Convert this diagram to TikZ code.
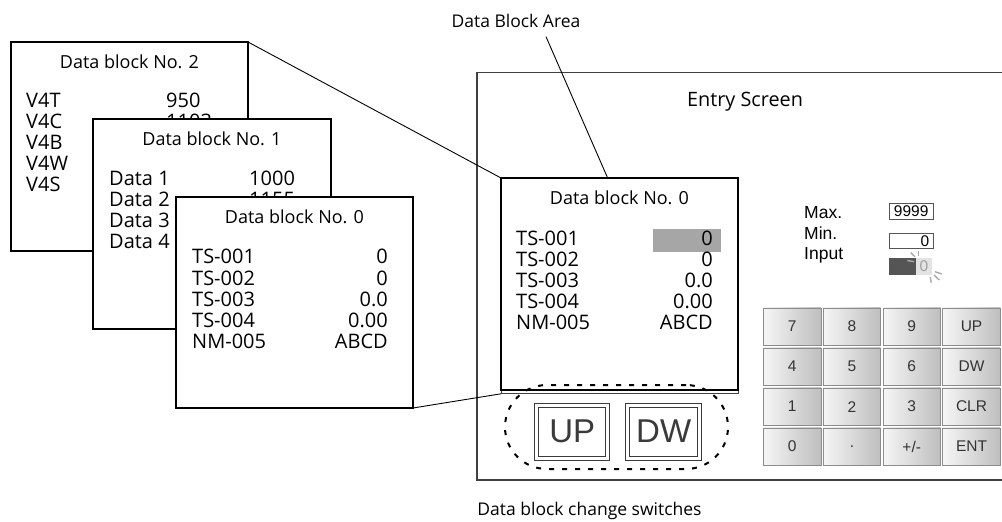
\documentclass[tikz,border=0pt]{standalone}
\usepackage{fontspec}
\usetikzlibrary{calc}
\setmainfont{Open Sans}
\newfontfamily\arialf{Liberation Sans}
\newcommand\fsz[1]{\fontsize{#1}{#1}\selectfont}
\definecolor{frame}{HTML}{404040}
\definecolor{keyb}{HTML}{8C8C8C}
\definecolor{keyl}{HTML}{F6F6F6}
\definecolor{keyr}{HTML}{BEBEBE}
\definecolor{keyt}{HTML}{333333}
\definecolor{hl}{HTML}{A6A6A6}
\definecolor{barc}{HTML}{555555}
\definecolor{btn}{HTML}{3A3A3A}
\definecolor{spk}{HTML}{A8A8A8}
\begin{document}
\begin{tikzpicture}[x=1pt,y=-1pt,
  blk/.style={draw, line width=2pt, fill=white, inner sep=0, outer sep=0, anchor=north west},
  ttl/.style={anchor=base, font=\fsz{18}, inner sep=0},
  rowl/.style={anchor=base west, font=\fsz{20}, inner sep=0},
  rowr/.style={anchor=base east, font=\fsz{20}, inner sep=0},
  lbl/.style={anchor=base, font=\fsz{17.5}, inner sep=0},
  conn/.style={line width=0.9pt},
  key/.style={draw=keyb, line width=0.8pt, left color=keyl, right color=keyr,
    minimum width=57.5, minimum height=37.5, anchor=north west, inner sep=0,
    font=\arialf\fsz{15.5}, text=keyt},
  sbtn/.style={draw=btn, double=white, double distance=3pt, line width=1pt,
    minimum width=71.5, minimum height=53, inner sep=0, font=\arialf\fsz{33}, text=btn},
  small/.style={font=\arialf\fsz{17.5}, inner sep=0, anchor=base west},
  spark/.style={draw=spk, line width=1.4pt},
  fbox/.style={draw=barc, line width=0.9pt, inner sep=0, anchor=north west, font=\arialf\fsz{15.5}}
]
\useasboundingbox (0,0) rectangle (1002,522);

% ---- data block No. 2
\node[blk, minimum width=237, minimum height=209] (b2) at (11,42) {};
\node[ttl] (b2t) at (129.5,68) {Data block No. 2};
\foreach \lab [count=\i from 0] in {V4T,V4C,V4B,V4W,V4S}
  \node[rowl] (b2l\i) at (26,107+21.2*\i) {\lab};
\node[rowl] (b2v0) at (166,107) {950};
\node[rowl] (b2v1) at (166,128.2) {1103};

% ---- data block No. 1
\node[blk, minimum width=238, minimum height=210] (b1) at (93,119) {};
\node[ttl] (b1t) at (212,145.5) {Data block No. 1};
\foreach \lab [count=\i from 0] in {Data 1,Data 2,Data 3,Data 4}
  \node[rowl] (b1l\i) at (109,185.2+21*\i) {\lab};
\node[rowl] (b1v0) at (249,185.2) {1000};
\node[rowl] (b1v1) at (249,206.2) {1155};

% ---- data block No. 0
\node[blk, minimum width=237, minimum height=211] (b0) at (176,197) {};
\node[ttl] (b0t) at (294.5,223.5) {Data block No. 0};
\foreach \lab/\val [count=\i from 0] in {TS-001/0,TS-002/0,TS-003/0.0,TS-004/0.00,NM-005/ABCD}{
  \node[rowl] (b0l\i) at (192,263.8+21.2*\i) {\lab};
  \node[rowr] (b0v\i) at (388,263.8+21.2*\i) {\val};
}

% ---- entry screen
\draw[draw=frame, line width=1.2pt] (1004,72.7) -- (477,72.7) -- (477,480) -- (1004,480);
\node[anchor=base west, font=\fsz{19.8}, inner sep=0] (es) at (687,106.5) {Entry Screen};

% ---- data block area
\node[draw=frame, line width=0.8pt, minimum width=237, minimum height=215, inner sep=0, anchor=north west] (areaout) at (501,178) {};
\node[blk, minimum width=237, minimum height=212] (area) at (501,178) {};
\fill[hl] (653,229) rectangle (721,252);
\node[ttl] (at) at (619.5,204.5) {Data block No. 0};
\foreach \lab/\val [count=\i from 0] in {TS-001/0,TS-002/0,TS-003/0.0,TS-004/0.00,NM-005/ABCD}{
  \node[rowl] (al\i) at (516,245+21*\i) {\lab};
  \node[rowr] (av\i) at (713,245+21*\i) {\val};
}

% ---- change switches
\node[draw, line width=2pt, dash pattern=on 5pt off 8pt, rounded corners=42pt,
  minimum width=223, minimum height=84, inner sep=0] (sw) at (616.5,427) {};
\node[sbtn] (up) at (572.2,431.5) {UP};
\node[sbtn] (dw) at (663.7,431.5) {DW};

% ---- Max / Min / Input
\node[small] (mx) at (804,218) {Max.};
\node[small] (mn) at (804,239.3) {Min.};
\node[small] (inp) at (804,259.5) {Input};
\node[fbox, minimum width=43.5, minimum height=16.3] (maxb) at (889,203) {9999};
\node[fbox, minimum width=43.5, minimum height=15] (minb) at (889,233) {};
\node[font=\arialf\fsz{15.5}, inner sep=0, anchor=east] (minv) at (929.5,240.7) {0};
\fill[barc] (889,258) rectangle (916,275);
\fill[gray!22] (916,258) rectangle (932,275);
\node[font=\arialf\fsz{15.5}, text=gray!75, inner sep=0] (inv) at (924,266.5) {0};
\draw[spark] (918.3,250.5) -- (918.3,256);
\draw[spark] (910.7,252.7) -- (915,256.7);
\draw[spark] (907.3,260.5) -- (914,261.7);
\draw[spark] (935,271.7) -- (941.7,274);
\draw[spark] (934,275) -- (939.3,280);
\draw[spark] (930.3,277) -- (931.2,282.7);

% ---- keypad
\foreach \lab [count=\i from 0] in {7,8,9,UP,4,5,6,DW,1,2,3,CLR,0,.,+/-,ENT}{
  \pgfmathtruncatemacro\kc{mod(\i,4)}
  \pgfmathtruncatemacro\kr{div(\i,4)}
  \node[key] (k\i) at (763+59.8*\kc, 307.5+40*\kr) {\lab};
}

% ---- labels and connectors
\node[lbl] (dba) at (516,27.3) {Data Block Area};
\node[lbl] (dbcs) at (589.5,515.5) {Data block change switches};
\draw[conn] (b2.north east) -- (area.north west);
\draw[conn] (b0.south east) -- (areaout.south west);
\draw[conn] ($(dba.south)+(30,9)$) -- ($(area.north west)!0.45!(area.north east)$);
\end{tikzpicture}
\end{document}
